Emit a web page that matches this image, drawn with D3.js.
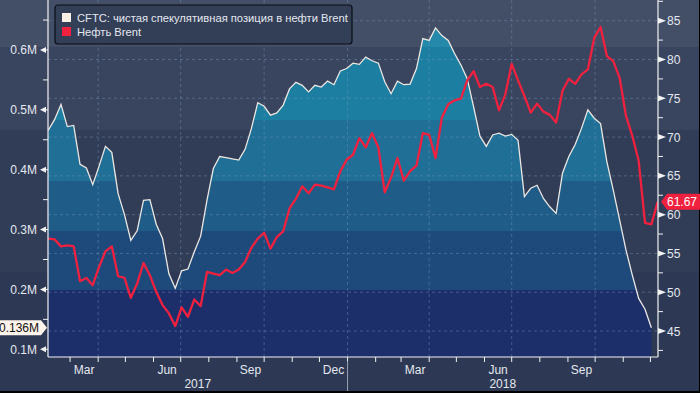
<!DOCTYPE html>
<html>
<head>
<meta charset="utf-8">
<script src="https://cdn.jsdelivr.net/npm/d3@7"></script>
<style>
body { margin: 0; background: #2c3853; overflow: hidden; }
text { font-family: "Liberation Sans", Arial, sans-serif; }
</style>
</head>
<body>
<div id="chart"></div>
<script>
// weekly dates (Sundays), Feb 2017 .. Dec 2018
var weeks = d3.timeWeek.range(new Date(2017, 1, 5), new Date(2018, 11, 10));

// CFTC net speculative position, millions of contracts
var cftc = [0.466, 0.484, 0.509, 0.472, 0.474, 0.409, 0.403, 0.375, 0.406, 0.439,
  0.429, 0.360, 0.325, 0.282, 0.298, 0.349, 0.350, 0.309, 0.285, 0.226,
  0.202, 0.231, 0.234, 0.263, 0.289, 0.349, 0.402, 0.422, 0.420, 0.418,
  0.416, 0.434, 0.469, 0.512, 0.506, 0.491, 0.495, 0.508, 0.535, 0.546,
  0.541, 0.530, 0.541, 0.538, 0.548, 0.542, 0.565, 0.569, 0.578, 0.576,
  0.588, 0.582, 0.578, 0.547, 0.527, 0.548, 0.542, 0.543, 0.569, 0.619,
  0.616, 0.637, 0.624, 0.616, 0.594, 0.575, 0.552, 0.505, 0.456, 0.439,
  0.458, 0.461, 0.456, 0.459, 0.449, 0.355, 0.369, 0.374, 0.352, 0.338,
  0.327, 0.394, 0.422, 0.442, 0.469, 0.500, 0.486, 0.477, 0.413, 0.366,
  0.316, 0.266, 0.224, 0.185, 0.167, 0.136];

// Brent, USD per barrel
var brent = [56.90, 56.81, 55.91, 56.04, 55.91, 51.42, 51.84, 50.91, 53.26, 55.27,
  55.91, 52.06, 51.84, 49.28, 51.12, 53.77, 52.19, 50.05, 48.34, 47.27,
  45.64, 48.04, 46.84, 49.07, 48.21, 52.61, 52.40, 52.19, 52.92, 52.49,
  52.92, 53.90, 55.74, 56.90, 57.67, 55.62, 57.11, 57.84, 60.80, 62.03,
  63.65, 62.75, 63.87, 63.74, 63.52, 63.27, 65.58, 67.08, 67.72, 69.86,
  68.66, 70.51, 68.66, 62.88, 64.81, 67.30, 64.38, 65.60, 66.31, 70.51,
  70.29, 67.30, 72.51, 74.23, 74.74, 74.95, 77.31, 78.50, 76.45, 76.87,
  76.45, 73.46, 75.51, 79.44, 77.31, 75.30, 73.15, 74.31, 73.28, 72.86,
  71.87, 75.94, 77.52, 76.87, 78.08, 78.72, 82.78, 84.19, 80.43, 79.79,
  77.64, 72.73, 70.16, 66.95, 58.95, 58.74, 61.67];

var leftTicks = [0.1, 0.2, 0.3, 0.4, 0.5, 0.6];
var rightTicks = [45, 50, 55, 60, 65, 70, 75, 80, 85];
var monthLabels = ["Mar", "Jun", "Sep", "Dec"];
var yearLabels = ["2017", "2018"];
var seriesNames = ["CFTC: чистая спекулятивная позиция в нефти Brent", "Нефть Brent"];

var W = 700, H = 393;
var plot = { left: 48, right: 658, top: 0, bottom: 357 };

var svg = d3.select("#chart").append("svg")
  .attr("width", W)
  .attr("height", H);

// background bands
var bgBands = [[0, 47, "#434e67"], [47, 130, "#39455f"], [130, 272, "#313d57"], [272, 393, "#2d3954"]];
svg.selectAll("rect.bg").data(bgBands).enter().append("rect")
  .attr("x", 0).attr("width", W)
  .attr("y", function (d) { return d[0]; })
  .attr("height", function (d) { return d[1] - d[0]; })
  .attr("fill", function (d) { return d[2]; });

svg.append("rect").attr("x", 0).attr("y", 391).attr("width", W).attr("height", 2).attr("fill", "#000");
svg.append("rect").attr("x", 699).attr("y", 0).attr("width", 1).attr("height", H).attr("fill", "#000");

var x = d3.scaleTime()
  .domain([weeks[0], weeks[weeks.length - 1]])
  .range([48.3, 657.7]);

var yL = d3.scaleLinear().domain([0.0871, 0.6835]).range([plot.bottom, plot.top]);
var yR = d3.scaleLinear().domain([41.65, 87.67]).range([plot.bottom, plot.top]);

var defs = svg.append("defs");
defs.append("clipPath").attr("id", "clip").append("rect")
  .attr("x", plot.left).attr("y", plot.top)
  .attr("width", plot.right - plot.left).attr("height", plot.bottom - plot.top);

// banded fill for the area
var bands = [[0, 47, "#2489aa"], [47, 120, "#1c7fa2"], [120, 181, "#1f6f96"],
  [181, 231, "#1f5d88"], [231, 290, "#1e4a7b"], [290, 357, "#1c2f6b"]];
var grad = defs.append("linearGradient").attr("id", "areaGrad")
  .attr("gradientUnits", "userSpaceOnUse")
  .attr("x1", 0).attr("y1", 0).attr("x2", 0).attr("y2", plot.bottom);
bands.forEach(function (b) {
  grad.append("stop").attr("offset", b[0] / plot.bottom).attr("stop-color", b[2]);
  grad.append("stop").attr("offset", b[1] / plot.bottom).attr("stop-color", b[2]);
});

var g = svg.append("g").attr("clip-path", "url(#clip)");

var cftcData = cftc.map(function (v, i) { return { date: weeks[i], v: v }; });
var brentData = brent.map(function (v, i) { return { date: weeks[i], v: v }; });

g.append("path")
  .datum(cftcData)
  .attr("fill", "url(#areaGrad)")
  .attr("d", d3.area()
    .x(function (d) { return x(d.date); })
    .y0(plot.bottom)
    .y1(function (d) { return yL(d.v); }));

// grid
g.selectAll("line.hgrid").data(rightTicks).enter().append("line")
  .attr("x1", plot.left).attr("x2", plot.right)
  .attr("y1", function (d) { return yR(d); })
  .attr("y2", function (d) { return yR(d); })
  .attr("stroke", "#7c9cc0").attr("stroke-opacity", 0.4)
  .attr("stroke-dasharray", "3,3");

var quarters = d3.timeMonth.every(3).range(new Date(2017, 3, 1), new Date(2018, 11, 1));
g.selectAll("line.vgrid").data(quarters).enter().append("line")
  .attr("y1", plot.top).attr("y2", plot.bottom)
  .attr("x1", function (d) { return x(d); })
  .attr("x2", function (d) { return x(d); })
  .attr("stroke", "#7c9cc0").attr("stroke-opacity", 0.4)
  .attr("stroke-dasharray", "3,3");

g.append("path")
  .datum(cftcData)
  .attr("fill", "none")
  .attr("stroke", "#ece7e2")
  .attr("stroke-width", 1.3)
  .attr("d", d3.line()
    .x(function (d) { return x(d.date); })
    .y(function (d) { return yL(d.v); }));

g.append("path")
  .datum(brentData)
  .attr("fill", "none")
  .attr("stroke", "#f0203f")
  .attr("stroke-width", 2.3)
  .attr("stroke-linejoin", "round")
  .attr("d", d3.line()
    .x(function (d) { return x(d.date); })
    .y(function (d) { return yR(d.v); }));

// axes frame
var axisCol = "#f2f2f2";
svg.append("line").attr("x1", plot.left).attr("x2", plot.left).attr("y1", 0).attr("y2", plot.bottom)
  .attr("stroke", axisCol).attr("stroke-width", 1.2);
svg.append("line").attr("x1", plot.right).attr("x2", plot.right).attr("y1", 0).attr("y2", plot.bottom)
  .attr("stroke", axisCol).attr("stroke-width", 1.2);
svg.append("line").attr("x1", plot.left).attr("x2", plot.right).attr("y1", plot.bottom).attr("y2", plot.bottom)
  .attr("stroke", axisCol).attr("stroke-width", 1.2);

var labelCol = "#e4e8ef";

// left axis
leftTicks.forEach(function (t) {
  var yy = yL(t);
  svg.append("path")
    .attr("d", "M" + (plot.left - 2) + "," + (yy - 3) + "L" + (plot.left - 8) + "," + yy + "L" + (plot.left - 2) + "," + (yy + 3) + "Z")
    .attr("fill", axisCol);
  svg.append("line").attr("x1", plot.left - 3).attr("x2", plot.left).attr("y1", yy).attr("y2", yy)
    .attr("stroke", axisCol);
  svg.append("text").attr("x", 37).attr("y", yy + 4.5)
    .attr("text-anchor", "end").attr("font-size", 12).attr("fill", labelCol)
    .text(t.toFixed(1) + "M");
});
leftTicks.forEach(function (t) {
  var yy = yL(t + 0.05);
  svg.append("line").attr("x1", plot.left - 5).attr("x2", plot.left).attr("y1", yy).attr("y2", yy)
    .attr("stroke", axisCol);
});

// right axis
rightTicks.forEach(function (t) {
  var yy = yR(t);
  svg.append("path")
    .attr("d", "M" + plot.right + "," + (yy - 3) + "L" + (plot.right + 8) + "," + yy + "L" + plot.right + "," + (yy + 3) + "Z")
    .attr("fill", axisCol);
  svg.append("text").attr("x", 667).attr("y", yy + 4.5)
    .attr("font-size", 12).attr("fill", labelCol)
    .text(t);
});
[42.5].concat(rightTicks.map(function (t) { return t + 2.5; })).forEach(function (t) {
  var yy = yR(t);
  svg.append("line").attr("x1", plot.right).attr("x2", plot.right + 5).attr("y1", yy).attr("y2", yy)
    .attr("stroke", axisCol);
});

// bottom axis
var months = d3.timeMonth.range(new Date(2017, 2, 1), new Date(2018, 11, 2));
svg.selectAll("line.mtick").data(months).enter().append("line")
  .attr("x1", function (d) { return x(d); })
  .attr("x2", function (d) { return x(d); })
  .attr("y1", plot.bottom).attr("y2", plot.bottom + 5)
  .attr("stroke", axisCol);

// only months that end inside the plot get a label
var labelled = months.filter(function (d) {
  return d.getMonth() % 3 === 2 && d3.timeMonth.offset(d, 1) <= x.domain()[1];
});
svg.selectAll("text.mlab").data(labelled).enter().append("text")
  .attr("x", function (d) { return (x(d) + x(d3.timeMonth.offset(d, 1))) / 2; })
  .attr("y", 374)
  .attr("text-anchor", "middle").attr("font-size", 12).attr("fill", labelCol)
  .text(function (d) { return monthLabels[Math.floor(d.getMonth() / 3)]; });

var yearStart = x(new Date(2018, 0, 1));
svg.append("line").attr("x1", yearStart).attr("x2", yearStart).attr("y1", 361).attr("y2", 391)
  .attr("stroke", "#9aa3b3");
svg.append("text").attr("x", (plot.left + yearStart) / 2).attr("y", 388)
  .attr("text-anchor", "middle").attr("font-size", 12).attr("fill", labelCol).text(yearLabels[0]);
svg.append("text").attr("x", (yearStart + plot.right) / 2).attr("y", 388)
  .attr("text-anchor", "middle").attr("font-size", 12).attr("fill", labelCol).text(yearLabels[1]);

// last value tags
var lastC = yL(cftc[cftc.length - 1]);
svg.append("path")
  .attr("d", "M-2," + (lastC - 7.5) + "L41," + (lastC - 7.5) + "L47," + lastC + "L41," + (lastC + 7.5) + "L-2," + (lastC + 7.5) + "Z")
  .attr("fill", "#fdf3ea");
svg.append("text").attr("x", 39).attr("y", lastC + 4.5)
  .attr("text-anchor", "end").attr("font-size", 12).attr("fill", "#111")
  .text(cftc[cftc.length - 1].toFixed(3) + "M");

var lastB = yR(brent[brent.length - 1]);
svg.append("path")
  .attr("d", "M661," + lastB + "L667," + (lastB - 8) + "L702," + (lastB - 8) + "L702," + (lastB + 8) + "L667," + (lastB + 8) + "Z")
  .attr("fill", "#f0203f");
svg.append("text").attr("x", 667).attr("y", lastB + 4.5)
  .attr("font-size", 12).attr("fill", "#fff")
  .text(brent[brent.length - 1].toFixed(2));

// legend
svg.append("rect")
  .attr("x", 55).attr("y", 5).attr("width", 297).attr("height", 39).attr("rx", 3)
  .attr("fill", "#333e57").attr("stroke", "#0a0e16").attr("stroke-width", 1.2);
var legColors = ["#fbf0e6", "#f0203f"];
seriesNames.forEach(function (name, i) {
  svg.append("rect").attr("x", 62).attr("y", 13 + i * 14).attr("width", 9).attr("height", 9)
    .attr("fill", legColors[i]);
  svg.append("text").attr("x", 77).attr("y", 22 + i * 14)
    .attr("font-size", 11.2).attr("fill", labelCol).text(name);
});
</script>
</body>
</html>
